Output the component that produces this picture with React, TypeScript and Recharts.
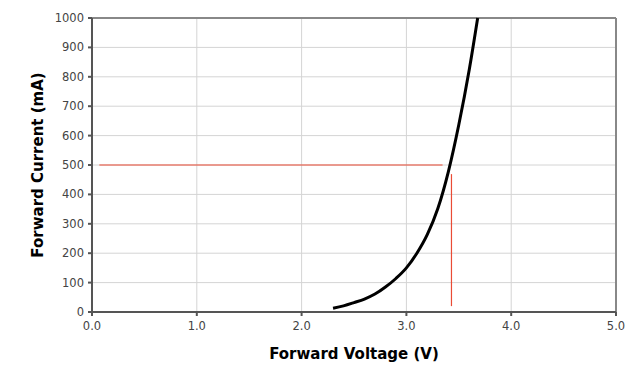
import React from 'react';
import { ComposedChart, Line, XAxis, YAxis, CartesianGrid, ReferenceLine, Label } from 'recharts';

// forward voltage (V) vs forward current (mA)
const voltage = [2.3, 2.4, 2.5, 2.6, 2.7, 2.8, 2.9, 3.0, 3.1, 3.2, 3.3, 3.4, 3.5, 3.6, 3.68];
const current = [13, 21, 32, 44, 61, 85, 114, 150, 200, 264, 352, 477, 637, 825, 1000];

const xTicks = [0, 1, 2, 3, 4, 5];
const yTicks = [0, 100, 200, 300, 400, 500, 600, 700, 800, 900, 1000];

// red marker lines at the 500 mA operating point
const markerCurrent = 500;
const markerHStart = 0.07;
const markerHEnd = 3.345;
const markerVoltage = 3.43;
const markerVTop = 469;
const markerVBottom = 20;

const data = voltage.map((v, i) => ({ v, i: current[i] }));

const font = '"DejaVu Sans", Verdana, sans-serif';

export default function App() {
  return (
    <div style={{ position: 'absolute', left: 0, top: 0, width: 640, height: 374, background: '#fff' }}>
      <ComposedChart width={640} height={374} data={data} margin={{ top: 18, right: 24, bottom: 0, left: 0 }}>
        <CartesianGrid stroke="#d4d4d4" strokeWidth={1} />
        <XAxis
          type="number"
          dataKey="v"
          domain={[0, 5]}
          ticks={xTicks}
          tickFormatter={(t: number) => t.toFixed(1)}
          height={62}
          stroke="#555"
          strokeWidth={2}
          tickSize={4}
          tick={{ fill: '#444', fontSize: 11.5, fontFamily: font }}
          tickMargin={6}
        >
          <Label
            value="Forward Voltage (V)"
            position="insideBottom"
            offset={15}
            style={{ fontFamily: font, fontSize: 15, fontWeight: 'bold', fill: '#000' }}
          />
        </XAxis>
        <YAxis
          type="number"
          domain={[0, 1000]}
          ticks={yTicks}
          width={92}
          stroke="#555"
          strokeWidth={2}
          tickSize={4}
          tick={{ fill: '#444', fontSize: 11.5, fontFamily: font }}
          tickMargin={4}
        >
          <Label
            value="Forward Current (mA)"
            angle={-90}
            position="insideLeft"
            offset={38}
            style={{ fontFamily: font, fontSize: 15, fontWeight: 'bold', fill: '#000', textAnchor: 'middle' }}
          />
        </YAxis>
        <ReferenceLine y={1000} stroke="#888" strokeWidth={2} />
        <ReferenceLine x={5} stroke="#888" strokeWidth={2} />
        <ReferenceLine
          segment={[{ x: markerHStart, y: markerCurrent }, { x: markerHEnd, y: markerCurrent }]}
          stroke="#ea4b35"
          strokeWidth={1.2}
        />
        <ReferenceLine
          segment={[{ x: markerVoltage, y: markerVTop }, { x: markerVoltage, y: markerVBottom }]}
          stroke="#ea4b35"
          strokeWidth={1.2}
        />
        <Line
          type="monotone"
          dataKey="i"
          stroke="#000"
          strokeWidth={3}
          dot={false}
          isAnimationActive={false}
        />
      </ComposedChart>
    </div>
  );
}
